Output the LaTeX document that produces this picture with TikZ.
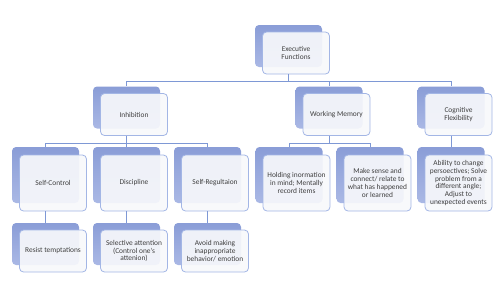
\documentclass[tikz,border=0pt]{standalone}
\usepackage{fontspec}
\setmainfont{Carlito}
\usepackage{xcolor}
\usetikzlibrary{positioning,calc}

\definecolor{backtop}{HTML}{8A9DD7}
\definecolor{backbot}{HTML}{AAB8E5}
\definecolor{frontln}{HTML}{A3B6E5}
\definecolor{frontbg}{HTML}{F7F8FB}
\definecolor{linkcol}{HTML}{7E98D5}
\definecolor{txt}{HTML}{3F3F3F}

\begin{document}
\begin{tikzpicture}[x=1pt, y=-1pt,
    back/.style={rectangle, rounded corners=4pt, top color=backtop, bottom color=backbot, draw=none, minimum width=67pt, minimum height=42pt},
    tall/.style={minimum height=56pt},
    front/.style={rectangle, rounded corners=4pt, draw=frontln, line width=0.8pt, fill=frontbg, fill opacity=0.92, text opacity=1, text=txt, minimum width=67pt, minimum height=42pt, align=center, font=\fontsize{7.4}{7.8}\selectfont, inner sep=1pt},
    link/.style={draw=linkcol, line width=0.8pt}]

    \useasboundingbox (0,0) rectangle (500,285);

    % back boxes
    \node [back] (exb) at (288.5,46) {};
    \node [back] (inhb) at (126.5,107.5) {};
    \node [back] (wmb) at (329,107.5) {};
    \node [back] (cfb) at (451,107.5) {};
    \node [back, tall] (scb) at (45.5,175) {};
    \node [back, tall] (dib) at (126.5,175) {};
    \node [back, tall] (srb) at (207.5,175) {};
    \node [back, tall] (hob) at (289,175) {};
    \node [back, tall] (mkb) at (370,175) {};
    \node [back, tall] (abb) at (451,175) {};
    \node [back] (reb) at (45.5,244) {};
    \node [back] (seb) at (126.5,244) {};
    \node [back] (avb) at (207.5,244) {};

    % front boxes
    \node [front] (exf) at ($(exb)+(7.5,7)$) {Executive\\Functions};
    \node [front] (inhf) at ($(inhb)+(7.5,7)$) {Inhibition};
    \node [front] (wmf) at ($(wmb)+(7.5,7)$) {Working Memory};
    \node [front] (cff) at ($(cfb)+(7.5,7)$) {Cognitive\\Flexibility};
    \node [front, tall] (scf) at ($(scb)+(7.5,8)$) {Self-Control};
    \node [front, tall] (dif) at ($(dib)+(7.5,8)$) {Discipline};
    \node [front, tall] (srf) at ($(srb)+(7.5,8)$) {Self-Regultaion};
    \node [front, tall] (hof) at ($(hob)+(7.5,8)$) {Holding inormation\\in mind; Mentally\\record items};
    \node [front, tall] (mkf) at ($(mkb)+(7.5,8)$) {Make sense and\\connect/ relate to\\what has happened\\or learned};
    \node [front, tall] (abf) at ($(abb)+(7.5,8)$) {Ability to change\\persoectives; Solve\\problem from a\\different angle;\\Adjust to\\unexpected events};
    \node [front] (ref) at ($(reb)+(7.5,7)$) {Resist temptations};
    \node [front] (sef) at ($(seb)+(7.5,7)$) {Selective attention\\(Control one’s\\attenion)};
    \node [front] (avf) at ($(avb)+(7.5,7)$) {Avoid making\\inappropriate\\behavior/ emotion};

    % connectors
    \coordinate (bus0) at ($(exb |- exf.south)+(0,7)$);
    \draw [link] (exb |- exf.south) -- (bus0);
    \foreach \n in {inhb,wmb,cfb}
        \draw [link] (bus0) -| (\n.north);

    \coordinate (bus1) at ($(inhb |- inhf.south)+(0,7)$);
    \draw [link] (inhb |- inhf.south) -- (bus1);
    \foreach \n in {scb,dib,srb}
        \draw [link] (bus1) -| (\n.north);

    \coordinate (bus2) at ($(wmb |- wmf.south)+(0,7)$);
    \draw [link] (wmb |- wmf.south) -- (bus2);
    \foreach \n in {hob,mkb}
        \draw [link] (bus2) -| (\n.north);

    \draw [link] (cfb |- cff.south) -- (abb.north);

    \draw [link] (scb |- scf.south) -- (reb.north);
    \draw [link] (dib |- dif.south) -- (seb.north);
    \draw [link] (srb |- srf.south) -- (avb.north);
\end{tikzpicture}
\end{document}
